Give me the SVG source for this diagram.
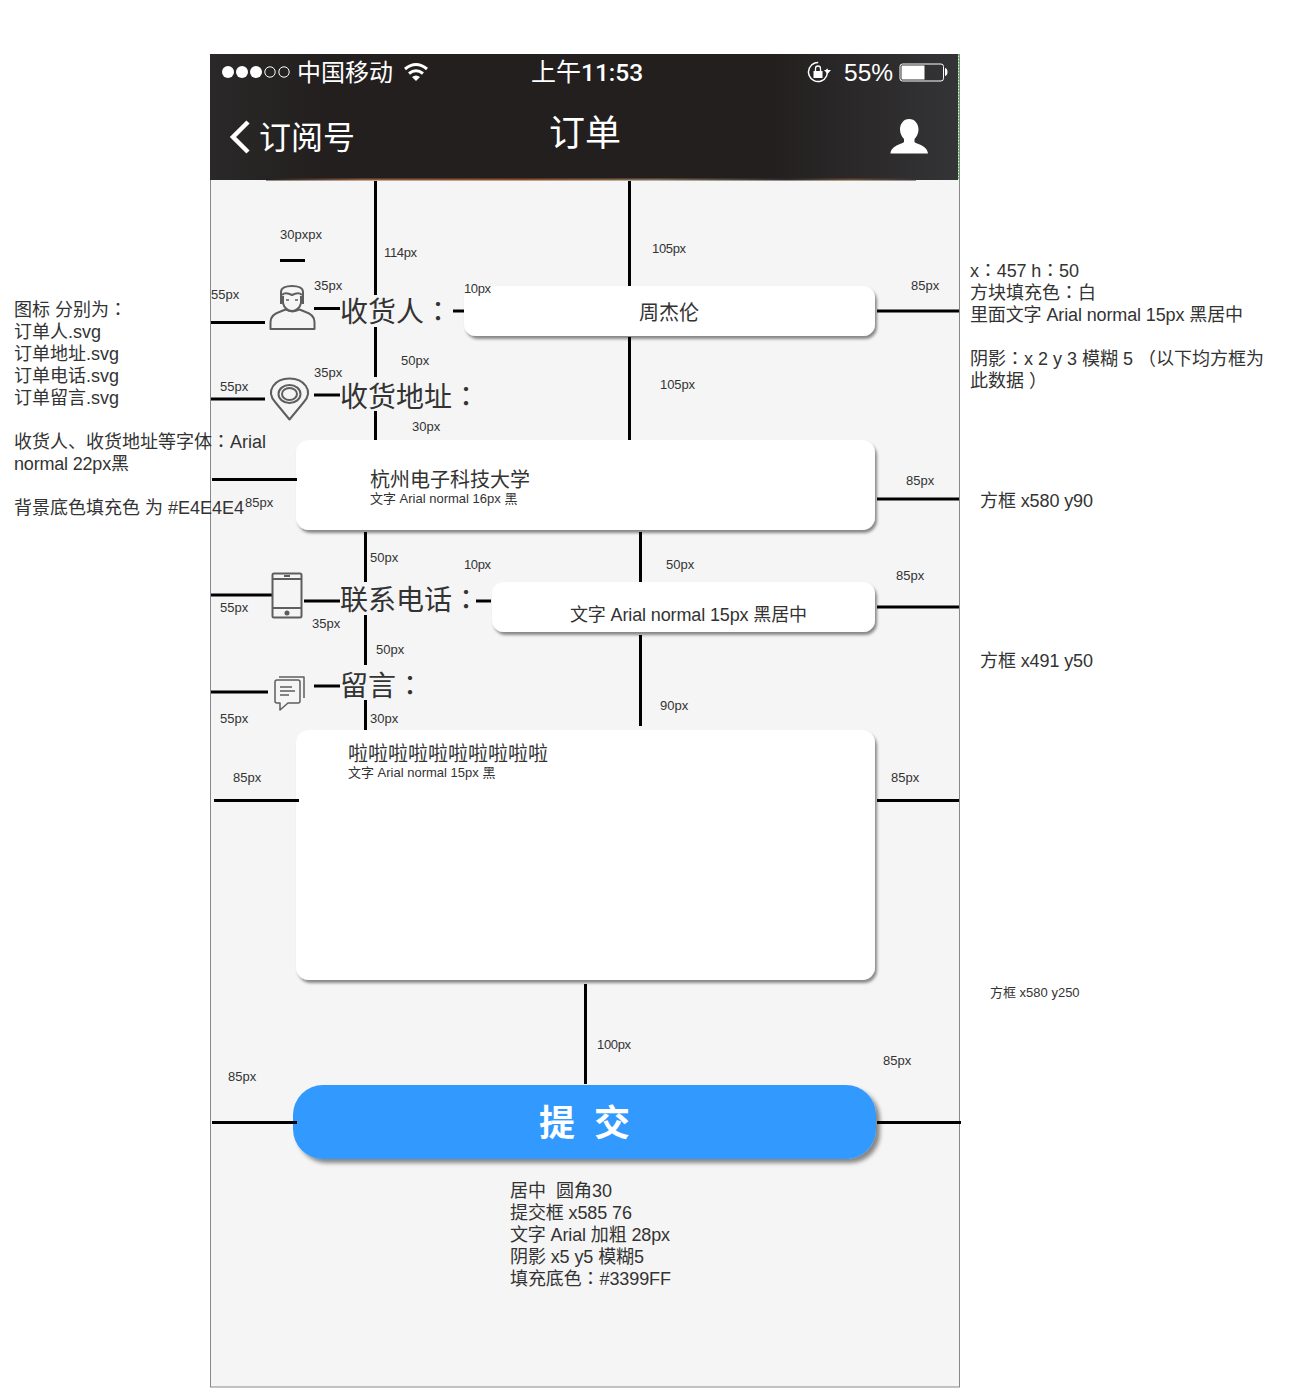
<svg xmlns="http://www.w3.org/2000/svg" width="1290" height="1388" viewBox="0 0 1290 1388">
<style>
text{font-family:"Liberation Sans","Noto Sans CJK SC",sans-serif;fill:#333}
.c{font-family:"Noto Sans CJK TC","Liberation Sans",sans-serif}
.n{font-size:18px}
.s{font-size:13px}
.h{font-size:28px}
.b{font-size:20px}
.w{fill:#fff}
.l line{stroke:#000;stroke-width:3}
.box{fill:#fff;filter:url(#sh)}
.ic{fill:none;stroke:#5e5e5e;stroke-width:2;stroke-linejoin:round}
</style>
<defs>
<filter id="sh" x="-5%" y="-10%" width="110%" height="125%"><feDropShadow dx="2" dy="3" stdDeviation="1.8" flood-color="#000" flood-opacity=".45"/></filter>
<filter id="sb" x="-5%" y="-15%" width="110%" height="135%"><feDropShadow dx="4" dy="4" stdDeviation="2.2" flood-color="#000" flood-opacity=".45"/></filter>
<linearGradient id="hd" x1="0" x2="1" y1="0" y2="0"><stop offset="0" stop-color="#2a2828"/><stop offset=".15" stop-color="#231f1f"/><stop offset=".75" stop-color="#231f1f"/><stop offset="1" stop-color="#343436"/></linearGradient>
<linearGradient id="st" x1="0" x2="1" y1="0" y2="0"><stop offset="0" stop-color="#231f1f"/><stop offset=".15" stop-color="#8a5a3a"/><stop offset=".4" stop-color="#8a4a2a"/><stop offset=".6" stop-color="#7a6a50"/><stop offset=".8" stop-color="#2a2a2a"/><stop offset=".9" stop-color="#6a4a30"/><stop offset="1" stop-color="#333"/></linearGradient>
</defs>

<g id="phone">
<rect x="210.500" y="54.500" width="749" height="1332.500" fill="#f5f5f5" stroke="#888"/>
<rect x="210" y="54" width="748" height="126" fill="url(#hd)"/>
<rect x="266" y="178.500" width="650" height="2" fill="url(#st)"/>
<line x1="958.500" y1="54" x2="958.500" y2="180" stroke="#5fd35f" stroke-dasharray="2 1"/>
</g>

<g id="status-bar">
<circle cx="228" cy="72" r="6" fill="#fff"/><circle cx="242" cy="72" r="6" fill="#fff"/><circle cx="256" cy="72" r="6" fill="#fff"/>
<circle cx="270" cy="72" r="5.200" fill="none" stroke="#fff"/><circle cx="284" cy="72" r="5.200" fill="none" stroke="#fff"/>
<text x="297" y="81" font-size="24" class="w">中国移动</text>
<path d="M405 69Q416 60 427 69M409 73.500Q416 68 423 73.500" fill="none" stroke="#fff" stroke-width="3"/>
<path d="M412 77Q416 74 420 77L416 81Z" fill="#fff"/>
<text x="531" y="81" font-size="25" class="w">上午<tspan font-size="24.500" style="font-family:Roboto,'Liberation Sans',sans-serif;font-weight:500">11:53</tspan></text>
<circle cx="818" cy="72" r="9.500" fill="none" stroke="#fff" stroke-width="1.500" stroke-dasharray="48 12" transform="rotate(-20 818 72)"/>
<path d="M824 70h7l-3.500 4Z" fill="#fff"/>
<rect x="813.500" y="71" width="9" height="7" fill="#fff"/><path d="M815.500 71v-2.500a2.500 2.500 0 0 1 5 0V71" fill="none" stroke="#fff" stroke-width="1.300"/>
<text x="844" y="81" font-size="24.500" class="w">55%</text>
<rect x="900" y="64" width="43.500" height="17" rx="2.500" fill="none" stroke="#fff"/>
<rect x="901.500" y="65.500" width="23" height="14" fill="#fff"/>
<path d="M945 68q2.500 .5 2.500 4t-2.500 4Z" fill="#fff"/>
</g>

<g id="nav-bar">
<path d="M248 122L233 137L248 152" fill="none" stroke="#fff" stroke-width="4.500"/>
<text x="259" y="149" font-size="32" class="w">订阅号</text>
<text x="549" y="146" font-size="36" class="w">订单</text>
<path d="M909 119c6 0 9.500 5 9.500 10.500c0 4-2 7.500-4 9.500v3c1 2 13 3 13.500 11.500h-37.500c.5-8.500 12.500-9.500 13.500-11.500v-3c-2-2-4-5.500-4-9.500c0-5.500 3.500-10.500 9-10.500Z" fill="#fff"/>
</g>

<g id="box-name"><rect class="box" x="464" y="286" width="411" height="50" rx="12"/><text class="b" x="639" y="320">周杰伦</text></g>
<g id="box-address"><rect class="box" x="296" y="440" width="579" height="90" rx="13"/><text class="b" x="370" y="487">杭州电子科技大学</text><text class="s" x="370" y="503">文字 Arial normal 16px 黑</text></g>
<g id="box-phone"><rect class="box" x="492" y="582" width="383" height="50" rx="12"/><text class="n" x="570" y="621" textLength="237">文字 Arial normal 15px 黑居中</text></g>
<g id="box-message"><rect class="box" x="296" y="730" width="579" height="250" rx="13"/><text class="b" x="348" y="761">啦啦啦啦啦啦啦啦啦啦</text><text class="s" x="348" y="777">文字 Arial normal 15px 黑</text></g>
<g id="btn-submit"><rect x="293" y="1085" width="583" height="74" rx="30" fill="#3399ff" filter="url(#sb)"/><text font-size="36" font-weight="bold" class="w" y="1136"><tspan x="539">提</tspan><tspan x="594">交</tspan></text></g>

<g id="connectors" class="l">
<line x1="375.500" y1="181" x2="375.500" y2="295"/><line x1="375.500" y1="327" x2="375.500" y2="377"/><line x1="375.500" y1="411" x2="375.500" y2="440"/>
<line x1="629.500" y1="181" x2="629.500" y2="286"/><line x1="629.500" y1="337" x2="629.500" y2="440"/>
<line x1="365.500" y1="532" x2="365.500" y2="582"/><line x1="365.500" y1="615" x2="365.500" y2="665"/><line x1="365.500" y1="700" x2="365.500" y2="730"/>
<line x1="640.500" y1="532" x2="640.500" y2="582"/><line x1="640.500" y1="635" x2="640.500" y2="726"/>
<line x1="585.500" y1="984" x2="585.500" y2="1084"/>
<line x1="280" y1="260.500" x2="305" y2="260.500"/>
<line x1="211" y1="322.500" x2="265" y2="322.500"/><line x1="314" y1="308.500" x2="340" y2="308.500"/><line x1="453" y1="311" x2="464" y2="311"/><line x1="877" y1="311" x2="959" y2="311"/>
<line x1="211" y1="399" x2="265" y2="399"/><line x1="314" y1="395" x2="340" y2="395"/>
<line x1="212" y1="479.500" x2="297" y2="479.500"/><line x1="877" y1="499" x2="959" y2="499"/>
<line x1="211" y1="595" x2="272" y2="595"/><line x1="304" y1="601" x2="340" y2="601"/><line x1="476" y1="601" x2="491" y2="601"/><line x1="877" y1="607" x2="959" y2="607"/>
<line x1="211" y1="692" x2="268" y2="692"/><line x1="314" y1="686" x2="340" y2="686"/>
<line x1="214" y1="800.500" x2="299" y2="800.500"/><line x1="877" y1="800.500" x2="959" y2="800.500"/>
<line x1="212" y1="1122.500" x2="297" y2="1122.500"/><line x1="877" y1="1122.500" x2="961" y2="1122.500"/>
</g>

<g id="icon-person" class="ic">
<path d="M270.500 329v-7c0-6 5-9 10-10.500l5-2q7 4 14 0l5 2c5 1.500 10 4.500 10 10.500v7Z"/>
<path d="M281 304v-12c0-4 5-6 11-6s11 2 11 6v12"/>
<path d="M283 296v7c1 5 5 8 9 8s8-3 9-8v-7"/>
<path d="M282 295c3-3 6-2 10 0c4-2 7-3 10 0"/>
<path d="M286 300h3M295 300h3" stroke-width="1.500"/>
</g>
<g id="icon-address" class="ic">
<path d="M289.500 419.500l-14-17c-11-12 0-24 14-24s25 12 14 24Z"/>
<ellipse cx="289.500" cy="394" rx="11" ry="9"/><ellipse cx="289.500" cy="394" rx="7.500" ry="6"/>
</g>
<g id="icon-phone" class="ic">
<rect x="272.500" y="573.500" width="29" height="44" rx="1.500"/>
<path d="M272.500 579h29M272.500 608h29M284 576h6"/><circle cx="287" cy="613" r="1.500" fill="#555"/>
</g>
<g id="icon-message" class="ic" style="stroke-width:1.500">
<path d="M279 677h25v21"/>
<path d="M275 682q0-2 2-2h21q2 0 2 2v19q0 2-2 2h-10l-8 7v-7h-3q-2 0-2-2Z" fill="#f5f5f5"/>
<path d="M280 687h12M280 691h15M280 695h9"/>
</g>

<g id="labels">
<text class="h" x="340" y="322">收货人</text><text class="h c" x="424" y="322">：</text>
<text class="h" x="340" y="407">收货地址</text><text class="h c" x="452" y="407">：</text>
<text class="h" x="340" y="610">联系电话</text><text class="h c" x="452" y="610">：</text>
<text class="h" x="340" y="696">留言</text><text class="h c" x="396" y="696">：</text>
</g>

<g id="dimension-labels" class="s">
<text class="s" x="280" y="239">30pxpx</text><text class="s" x="384" y="257" textLength="33">114px</text><text class="s" x="652" y="253" textLength="34">105px</text>
<text class="s" x="314" y="290">35px</text><text class="s" x="211" y="299">55px</text><text class="s" x="464" y="293" textLength="27">10px</text><text class="s" x="911" y="290">85px</text>
<text class="s" x="401" y="365">50px</text><text class="s" x="314" y="377">35px</text><text class="s" x="220" y="391">55px</text><text class="s" x="660" y="389" textLength="35">105px</text>
<text class="s" x="412" y="431">30px</text><text class="s" x="906" y="485">85px</text><text class="s" x="245" y="507">85px</text>
<text class="s" x="370" y="562">50px</text><text class="s" x="666" y="569">50px</text><text class="s" x="464" y="569" textLength="27">10px</text><text class="s" x="896" y="580">85px</text>
<text class="s" x="220" y="612">55px</text><text class="s" x="312" y="628">35px</text><text class="s" x="376" y="654">50px</text><text class="s" x="660" y="710">90px</text>
<text class="s" x="220" y="723">55px</text><text class="s" x="370" y="723">30px</text><text class="s" x="233" y="782">85px</text><text class="s" x="891" y="782">85px</text>
<text class="s" x="597" y="1049" textLength="34">100px</text><text class="s" x="883" y="1065">85px</text><text class="s" x="228" y="1081">85px</text>
</g>

<g id="notes-left" class="n">
<text class="n" x="14" y="316">图标 分别为<tspan class="c">：</tspan></text>
<text class="n" x="14" y="338">订单人.svg</text>
<text class="n" x="14" y="360">订单地址.svg</text>
<text class="n" x="14" y="382">订单电话.svg</text>
<text class="n" x="14" y="404">订单留言.svg</text>
<text class="n" x="14" y="448">收货人、收货地址等字体<tspan class="c">：</tspan>Arial</text>
<text class="n" x="14" y="470" textLength="115">normal 22px黑</text>
<text class="n" x="14" y="514">背景底色填充色 为 #E4E4E4</text>
</g>
<g id="notes-right" class="n">
<text class="n" x="970" y="277" textLength="109">x<tspan class="c">：</tspan>457 h<tspan class="c">：</tspan>50</text>
<text class="n" x="970" y="299">方块填充色<tspan class="c">：</tspan>白</text>
<text class="n" x="970" y="321" textLength="273">里面文字 Arial normal 15px 黑居中</text>
<text class="n" x="970" y="365">阴影<tspan class="c">：</tspan>x 2 y 3 模糊 5 <tspan class="c">（</tspan>以下均方框为</text>
<text class="n" x="970" y="387">此数据 <tspan class="c">）</tspan></text>
<text class="n" x="980" y="507" textLength="113">方框 x580 y90</text>
<text class="n" x="980" y="667" textLength="113">方框 x491 y50</text>
<text class="s" x="990" y="997">方框 x580 y250</text>
</g>
<g id="notes-bottom" class="n">
<text class="n" x="510" y="1197">居中&#160;&#160;圆角30</text>
<text class="n" x="510" y="1219" textLength="122">提交框 x585 76</text>
<text class="n" x="510" y="1241" textLength="160">文字 Arial 加粗 28px</text>
<text class="n" x="510" y="1263" textLength="134">阴影 x5 y5 模糊5</text>
<text class="n" x="510" y="1285" textLength="161">填充底色<tspan class="c">：</tspan>#3399FF</text>
</g>
</svg>
